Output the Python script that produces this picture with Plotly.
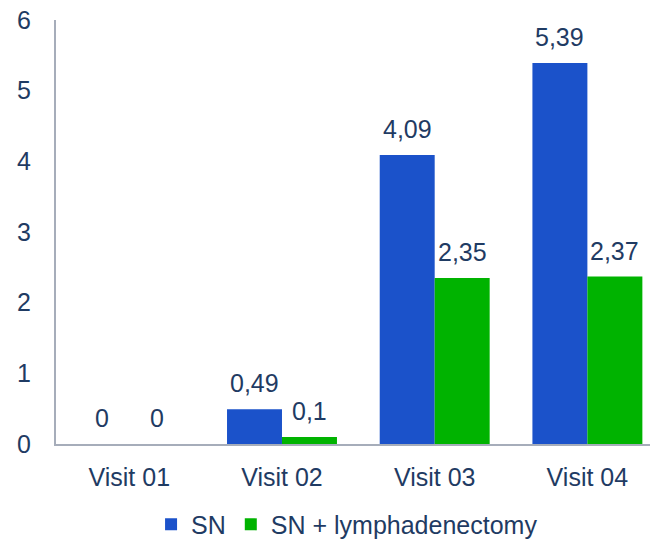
import plotly.graph_objects as go

categories = ["Visit 01", "Visit 02", "Visit 03", "Visit 04"]
sn_values = [0, 0.49, 4.09, 5.39]
lymph_values = [0, 0.1, 2.35, 2.37]
y_ticks = [0, 1, 2, 3, 4, 5, 6]

def fmt(v):
    return str(v).replace(".", ",")

text_color = "#1F3B63"
font_family = "Liberation Sans, Arial, sans-serif"
fsize = 25

fig = go.Figure()
fig.add_trace(go.Bar(
    x=categories, y=sn_values, name="SN",
    marker=dict(color="#1B52CA", line=dict(width=0)),
))
fig.add_trace(go.Bar(
    x=categories, y=lymph_values, name="SN + lymphadenectomy",
    marker=dict(color="#00B300", line=dict(width=0)),
))

bar_half_px = 27.4
for cat, v in zip(categories, sn_values):
    fig.add_annotation(x=cat, y=v, xref="x", yref="y", text=fmt(v), showarrow=False,
                       xshift=-bar_half_px, yshift=10, yanchor="bottom",
                       font=dict(size=fsize, color=text_color, family=font_family))
for cat, v in zip(categories, lymph_values):
    fig.add_annotation(x=cat, y=v, xref="x", yref="y", text=fmt(v), showarrow=False,
                       xshift=bar_half_px, yshift=10, yanchor="bottom",
                       font=dict(size=fsize, color=text_color, family=font_family))

fig.update_layout(
    width=650, height=544,
    margin=dict(l=56, r=0, t=20, b=100, autoexpand=False),
    paper_bgcolor="white", plot_bgcolor="white",
    barmode="group", bargap=0.28, bargroupgap=0,
    font=dict(family=font_family, size=fsize, color=text_color),
    showlegend=True,
    legend=dict(orientation="h", x=0.49, xanchor="center", y=-0.19, yanchor="middle",
                font=dict(size=fsize, color=text_color), itemwidth=30, traceorder="normal"),
    xaxis=dict(range=[-0.48, 3.41], showline=True, linecolor="#A6ADBA", linewidth=2,
               showgrid=False, ticks="", ticklabelstandoff=10, automargin=False,
               tickfont=dict(size=fsize, color=text_color)),
    yaxis=dict(range=[0, 6], tickvals=y_ticks, showline=True, linecolor="#A6ADBA", linewidth=2,
               showgrid=False, zeroline=False, ticks="", ticklabelstandoff=18, automargin=False,
               tickfont=dict(size=fsize, color=text_color)),
)

fig.write_html("out.html")
